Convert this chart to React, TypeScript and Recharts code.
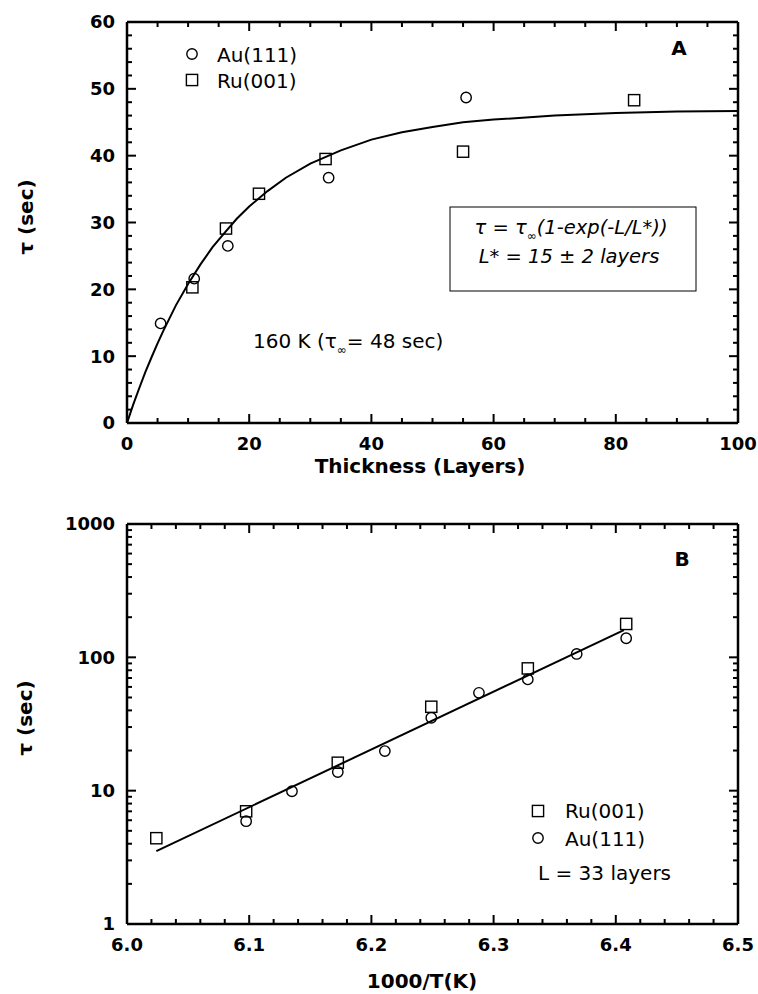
import React from 'react';
import { ScatterChart, Scatter, XAxis, YAxis } from 'recharts';

const FONT = '"DejaVu Sans", Verdana, sans-serif';

// ---------- Panel A data ----------
const auThicknessA = [5.5, 11, 16.5, 33, 55.5];
const auTauA = [14.9, 21.6, 26.5, 36.7, 48.7];
const ruThicknessA = [10.7, 16.2, 21.6, 32.5, 55, 83];
const ruTauA = [20.3, 29.1, 34.3, 39.5, 40.6, 48.3];
const fitThicknessA = [0, 1, 2, 3, 4, 5, 6, 8, 10, 12, 14, 16, 18, 20, 23, 26, 30, 35, 40, 45, 50, 55, 60, 70, 80, 90, 100];
const fitTauA = [0, 2.7, 5.2, 7.6, 9.8, 11.9, 13.9, 17.6, 20.8, 23.7, 26.3, 28.5, 30.6, 32.4, 34.7, 36.7, 38.8, 40.8, 42.4, 43.5, 44.3, 45.0, 45.4, 46.0, 46.4, 46.6, 46.7];

const xMajorA = [0, 20, 40, 60, 80, 100];
const xMinorA = [5, 10, 15, 25, 30, 35, 45, 50, 55, 65, 70, 75, 85, 90, 95];
const yMajorA = [0, 10, 20, 30, 40, 50, 60];
const yMinorA = [2, 4, 6, 8, 12, 14, 16, 18, 22, 24, 26, 28, 32, 34, 36, 38, 42, 44, 46, 48, 52, 54, 56, 58];

// ---------- Panel B data ----------
const ruInvTB = [6.024, 6.0975, 6.1725, 6.249, 6.328, 6.4085];
const ruTauB = [4.4, 7.0, 16.2, 42.6, 82.6, 178];
const auInvTB = [6.0975, 6.135, 6.1725, 6.211, 6.249, 6.288, 6.328, 6.368, 6.4085];
const auTauB = [5.9, 9.9, 13.8, 19.8, 35.2, 54.2, 68.3, 106, 139];
const fitInvTB = [6.024, 6.4066];
const fitTauB = [3.52, 160];

const xMajorB = [6.0, 6.1, 6.2, 6.3, 6.4, 6.5];
const xMinorB = [6.02, 6.04, 6.06, 6.08, 6.12, 6.14, 6.16, 6.18, 6.22, 6.24, 6.26, 6.28, 6.32, 6.34, 6.36, 6.38, 6.42, 6.44, 6.46, 6.48];
const yMajorB = [1, 10, 100, 1000];
const yMinorB = [2, 3, 4, 5, 6, 7, 8, 9, 20, 30, 40, 50, 60, 70, 80, 90, 200, 300, 400, 500, 600, 700, 800, 900];

const toPts = (xs: number[], ys: number[]) => xs.map((x, i) => ({ x, y: ys[i] }));

type Side = 'bottom' | 'top' | 'left' | 'right';

function makeTick(side: Side, majors: number[], showLabels: boolean, fmt: (v: number) => string) {
  return (props: any) => {
    const x = Number(props.x);
    const y = Number(props.y);
    const v = Number(props.payload.value);
    const isMajor = majors.some((m) => Math.abs(m - v) < 1e-9);
    const len = isMajor ? 9 : 5;
    let x2 = x;
    let y2 = y;
    if (side === 'bottom') y2 = y - len;
    if (side === 'top') y2 = y + len;
    if (side === 'left') x2 = x + len;
    if (side === 'right') x2 = x - len;
    let label: React.ReactNode = null;
    if (showLabels && isMajor) {
      if (side === 'bottom') {
        label = (
          <text x={x} y={y + 21} dy="0.36em" textAnchor="middle" fontFamily={FONT} fontWeight="bold" fontSize={18} fill="#000">
            {fmt(v)}
          </text>
        );
      } else if (side === 'left') {
        label = (
          <text x={x - 12} y={y} dy="0.36em" textAnchor="end" fontFamily={FONT} fontWeight="bold" fontSize={18} fill="#000">
            {fmt(v)}
          </text>
        );
      }
    }
    return (
      <g>
        <line x1={x} y1={y} x2={x2} y2={y2} stroke="#000" strokeWidth={2} />
        {label}
      </g>
    );
  };
}

const circleShape = (p: any) => <circle cx={p.cx} cy={p.cy} r={5.2} fill="none" stroke="#000" strokeWidth={1.4} />;
const squareShape = (p: any) => <rect x={p.cx - 5.6} y={p.cy - 5.6} width={11.2} height={11.2} fill="none" stroke="#000" strokeWidth={1.4} />;
const noShape = () => <g />;

const axisLine = { stroke: '#000', strokeWidth: 2.5 };
const sortNum = (a: number[]) => [...a].sort((p, q) => p - q);

function PanelA() {
  const xt = sortNum([...xMajorA, ...xMinorA]);
  const yt = sortNum([...yMajorA, ...yMinorA]);
  const common = { tickLine: false, tickSize: 0, tickMargin: 0, interval: 0 as const, axisLine, allowDataOverflow: true };
  const fit = toPts(fitThicknessA, fitTauA);
  return (
    <ScatterChart width={758} height={480} margin={{ top: 21, right: 19, bottom: 0, left: 0 }}>
      <XAxis type="number" dataKey="x" domain={[0, 100]} ticks={xt} height={57} tick={makeTick('bottom', xMajorA, true, (v) => String(v))} {...common} />
      <XAxis xAxisId="top" orientation="top" type="number" dataKey="x" domain={[0, 100]} ticks={xt} height={1} tick={makeTick('top', xMajorA, false, String)} {...common} />
      <YAxis type="number" dataKey="y" domain={[0, 60]} ticks={yt} width={127} tick={makeTick('left', yMajorA, true, (v) => String(v))} {...common} />
      <YAxis yAxisId="right" orientation="right" type="number" dataKey="y" domain={[0, 60]} ticks={yt} width={1} tick={makeTick('right', yMajorA, false, String)} {...common} />
      <Scatter data={fit} xAxisId="top" yAxisId="right" shape={noShape} isAnimationActive={false} />
      <Scatter data={fit} line={{ stroke: '#000', strokeWidth: 2 }} lineType="joint" shape={noShape} isAnimationActive={false} />
      <Scatter data={toPts(auThicknessA, auTauA)} shape={circleShape} isAnimationActive={false} />
      <Scatter data={toPts(ruThicknessA, ruTauA)} shape={squareShape} isAnimationActive={false} />
    </ScatterChart>
  );
}

function PanelB() {
  const xt = sortNum([...xMajorB, ...xMinorB]);
  const yt = sortNum([...yMajorB, ...yMinorB]);
  const common = { tickLine: false, tickSize: 0, tickMargin: 0, interval: 0 as const, axisLine, allowDataOverflow: true };
  const fit = toPts(fitInvTB, fitTauB);
  return (
    <ScatterChart width={758} height={500} margin={{ top: 29, right: 19, bottom: 0, left: 0 }}>
      <XAxis type="number" dataKey="x" domain={[6.0, 6.5]} ticks={xt} height={70} tick={makeTick('bottom', xMajorB, true, (v) => v.toFixed(1))} {...common} />
      <XAxis xAxisId="top" orientation="top" type="number" dataKey="x" domain={[6.0, 6.5]} ticks={xt} height={1} tick={makeTick('top', xMajorB, false, String)} {...common} />
      <YAxis type="number" dataKey="y" scale="log" domain={[1, 1000]} ticks={yt} width={127} tick={makeTick('left', yMajorB, true, (v) => String(v))} {...common} />
      <YAxis yAxisId="right" orientation="right" type="number" dataKey="y" scale="log" domain={[1, 1000]} ticks={yt} width={1} tick={makeTick('right', yMajorB, false, String)} {...common} />
      <Scatter data={fit} xAxisId="top" yAxisId="right" shape={noShape} isAnimationActive={false} />
      <Scatter data={fit} line={{ stroke: '#000', strokeWidth: 2 }} lineType="joint" shape={noShape} isAnimationActive={false} />
      <Scatter data={toPts(ruInvTB, ruTauB)} shape={squareShape} isAnimationActive={false} />
      <Scatter data={toPts(auInvTB, auTauB)} shape={circleShape} isAnimationActive={false} />
    </ScatterChart>
  );
}

function Overlay() {
  const reg = { fontFamily: FONT, fontSize: 20, fill: '#000' };
  const bold = { fontFamily: FONT, fontSize: 20, fontWeight: 'bold' as const, fill: '#000' };
  const ital = { fontFamily: FONT, fontSize: 19.5, fontStyle: 'italic' as const, fill: '#000' };
  return (
    <svg width={758} height={994} style={{ position: 'absolute', left: 0, top: 0, pointerEvents: 'none' }}>
      {/* Panel A annotations */}
      <text x={679} y={55} textAnchor="middle" {...bold}>A</text>
      <circle cx={192} cy={54} r={5.2} fill="none" stroke="#000" strokeWidth={1.4} />
      <text x={217} y={62} {...reg}>Au(111)</text>
      <rect x={186.4} y={74.4} width={11.2} height={11.2} fill="none" stroke="#000" strokeWidth={1.4} />
      <text x={217} y={88} {...reg}>Ru(001)</text>
      <text x={253} y={348} {...reg}>
        160 K (τ<tspan dy={6} fontSize={12}>∞</tspan>
        <tspan dy={-6}>= 48 sec)</tspan>
      </text>
      <rect x={450} y={207} width={246} height={84} fill="none" stroke="#000" strokeWidth={1} />
      <text x={571} y={234} textAnchor="middle" {...ital}>
        τ = τ<tspan dy={6} fontSize={12}>∞</tspan>
        <tspan dy={-6}>(1-exp(-L/L*))</tspan>
      </text>
      <text x={569} y={263} textAnchor="middle" {...ital}>L* = 15 ± 2 layers</text>
      <text x={420} y={473} textAnchor="middle" {...bold}>Thickness (Layers)</text>
      <text x={0} y={0} textAnchor="middle" transform="translate(33,217) rotate(-90)" {...bold}>τ (sec)</text>

      {/* Panel B annotations */}
      <text x={682} y={566} textAnchor="middle" {...bold}>B</text>
      <rect x={532.4} y={805.4} width={11.2} height={11.2} fill="none" stroke="#000" strokeWidth={1.4} />
      <text x={565} y={818} {...reg}>Ru(001)</text>
      <circle cx={538} cy={838} r={5.2} fill="none" stroke="#000" strokeWidth={1.4} />
      <text x={565} y={846} {...reg}>Au(111)</text>
      <text x={538} y={880} {...reg}>L = 33 layers</text>
      <text x={422} y={988} textAnchor="middle" {...bold}>1000/T(K)</text>
      <text x={0} y={0} textAnchor="middle" transform="translate(32,718) rotate(-90)" {...bold}>τ (sec)</text>
    </svg>
  );
}

export default function App() {
  return (
    <div style={{ position: 'absolute', left: 0, top: 0, width: 758, height: 994, background: '#fff' }}>
      <div style={{ position: 'absolute', left: 0, top: 0 }}>
        <PanelA />
      </div>
      <div style={{ position: 'absolute', left: 0, top: 494 }}>
        <PanelB />
      </div>
      <Overlay />
    </div>
  );
}
